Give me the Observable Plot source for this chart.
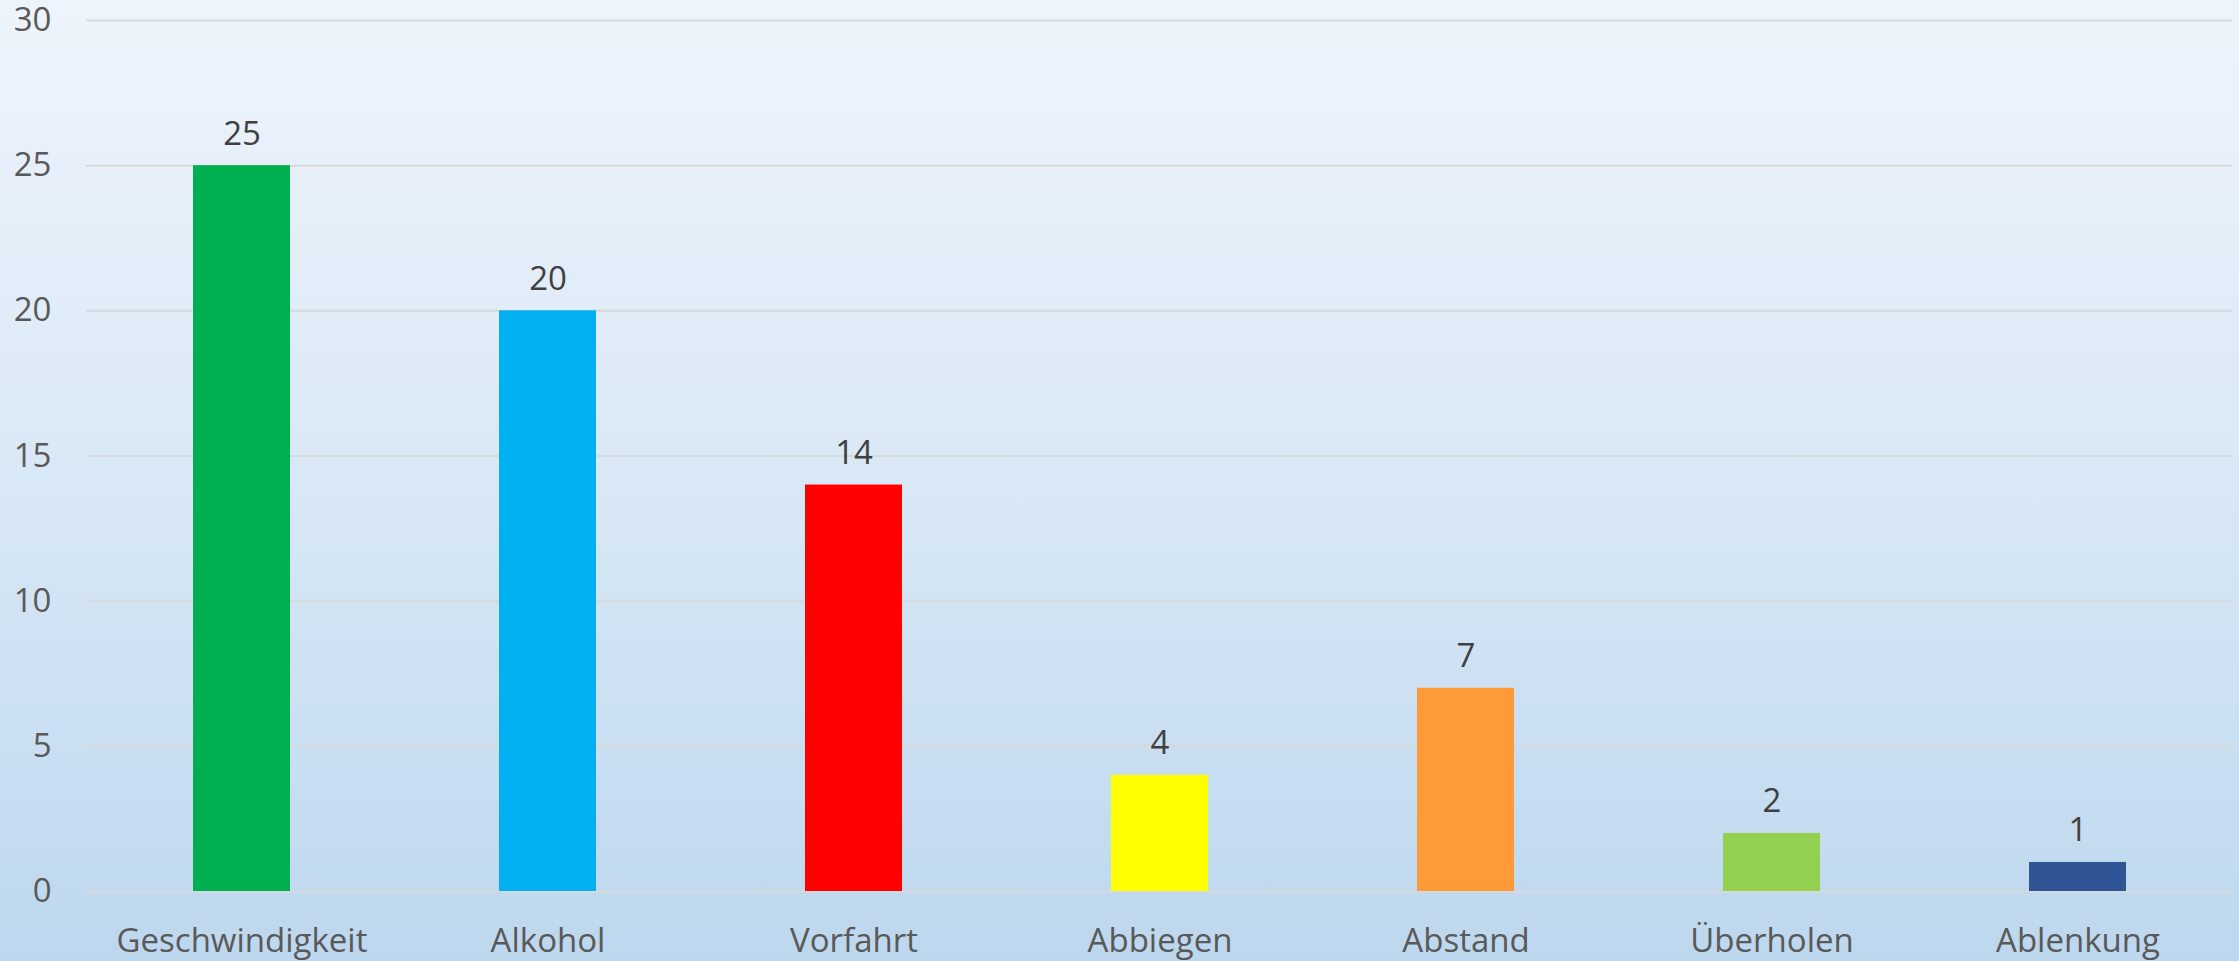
<!DOCTYPE html>
<html>
<head>
<meta charset="utf-8">
<script src="https://cdn.jsdelivr.net/npm/d3@7"></script>
<script src="https://cdn.jsdelivr.net/npm/@observablehq/plot@0.6"></script>
<style>
  html, body { margin: 0; padding: 0; }
  body {
    width: 2239px; height: 961px; overflow: hidden;
    background: linear-gradient(to bottom, #EEF4FC 0%, #D9E8F6 50%, #BDD7EE 100%);
  }
  svg { background: transparent !important; overflow: visible; }
</style>
</head>
<body>
<div id="chart"></div>
<script>
const categories = ["Geschwindigkeit", "Alkohol", "Vorfahrt", "Abbiegen", "Abstand", "Überholen", "Ablenkung"];
const values = [25, 20, 14, 4, 7, 2, 1];
const colors = ["#00B050", "#00B0F0", "#FF0000", "#FFFF00", "#FF9A38", "#92D050", "#2F5597"];
const yTicks = [0, 5, 10, 15, 20, 25, 30];

const data = categories.map((c, i) => ({category: c, value: values[i], color: colors[i]}));

const chart = Plot.plot({
  width: 2239,
  height: 961,
  marginLeft: 86,
  marginRight: 7,
  marginTop: 20,
  marginBottom: 70,
  style: {fontFamily: "'Open Sans', sans-serif", fontSize: "33px", color: "#595959", background: "transparent", overflow: "visible"},
  x: {domain: categories, paddingInner: 0.684, paddingOuter: 0.342, align: 0.5, label: null, tickSize: 0, tickPadding: 38},
  y: {domain: [0, 30], ticks: yTicks, label: null, tickSize: 0, tickPadding: 35},
  marks: [
    Plot.ruleY(yTicks, {stroke: "#D9D9D9", strokeWidth: 2}),
    Plot.barY(data, {x: "category", y: "value", fill: "color"}),
    Plot.text(data, {x: "category", y: "value", text: d => String(d.value), lineAnchor: "bottom", dy: -21, fill: "#404040", fontSize: 33}),
    Plot.axisY({ticks: yTicks, tickSize: 0, tickPadding: 35, label: null}),
    Plot.axisX({tickSize: 0, tickPadding: 37, label: null})
  ]
});
document.getElementById("chart").appendChild(chart);
</script>
</body>
</html>
